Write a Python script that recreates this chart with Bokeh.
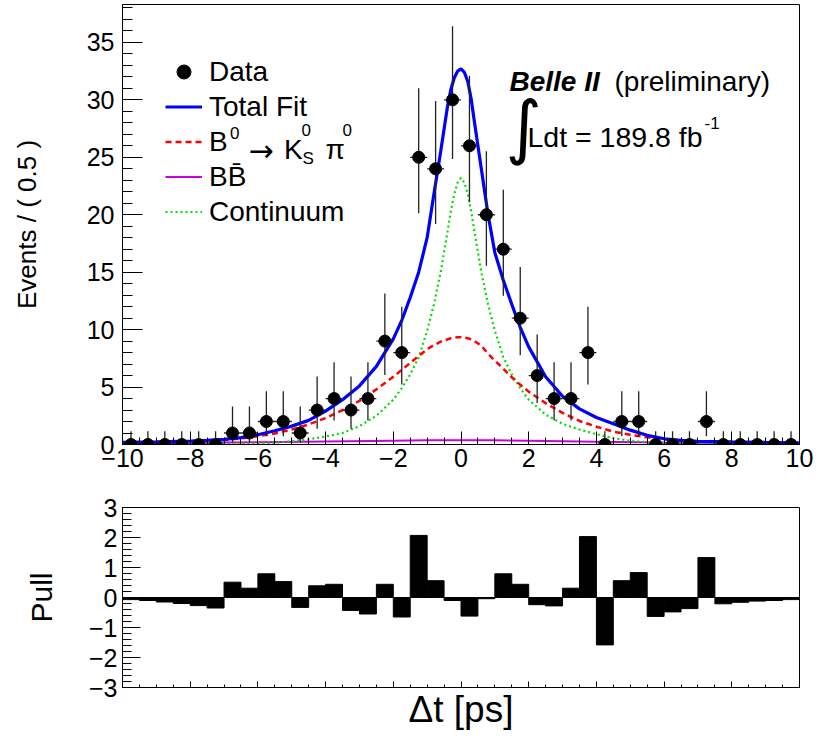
from bokeh.plotting import figure
from bokeh.models import (FixedTicker, CustomJSTickFormatter, Range1d, Label,
                          Legend, LegendItem, ColumnDataSource, CustomLabelingPolicy)
from bokeh.layouts import column
from bokeh.embed import file_html
from bokeh.resources import INLINE

FONT = "Liberation Sans"

# ---------------- data ----------------
bin_centers = [-9.75, -9.25, -8.75, -8.25, -7.75, -7.25, -6.75, -6.25, -5.75, -5.25,
               -4.75, -4.25, -3.75, -3.25, -2.75, -2.25, -1.75, -1.25, -0.75, -0.25,
               0.25, 0.75, 1.25, 1.75, 2.25, 2.75, 3.25, 3.75, 4.25, 4.75,
               5.25, 5.75, 6.25, 6.75, 7.25, 7.75, 8.25, 8.75, 9.25, 9.75]
counts = [0, 0, 0, 0, 0, 0, 1, 1, 2, 2,
          1, 3, 4, 3, 4, 9, 8, 25, 24, 30,
          26, 20, 17, 11, 6, 4, 4, 8, 0, 2,
          2, 0, 0, 0, 2, 0, 0, 0, 0, 0]
err_low = [0, 0, 0, 0, 0, 0, 0.17, 0.17, 0.71, 0.71,
           0.17, 1.37, 2.09, 1.37, 2.09, 6.06, 5.23, 20.13, 19.19, 24.85,
           21.09, 15.57, 12.95, 7.77, 3.62, 2.09, 2.09, 5.23, 0, 0.71,
           0.71, 0, 0, 0, 0.71, 0, 0, 0, 0, 0]
err_high = [1.15, 1.15, 1.15, 1.15, 1.15, 1.15, 3.30, 3.30, 4.64, 4.64,
            3.30, 5.92, 7.16, 5.92, 7.16, 13.15, 11.98, 31.0, 29.91, 36.4,
            32.09, 25.52, 22.18, 15.46, 9.58, 7.16, 7.16, 11.98, 1.15, 4.64,
            4.64, 1.15, 1.15, 1.15, 4.64, 1.15, 1.15, 1.15, 1.15, 1.15]
pulls = [-0.07, -0.10, -0.15, -0.20, -0.27, -0.35, 0.51, 0.31, 0.79, 0.53,
         -0.33, 0.39, 0.44, -0.43, -0.55, 0.44, -0.65, 2.07, 0.56, -0.10,
         -0.62, -0.04, 0.79, 0.44, -0.24, -0.28, 0.31, 2.03, -1.58, 0.56,
         0.83, -0.63, -0.48, -0.37, 1.33, -0.21, -0.16, -0.12, -0.10, -0.07]
bin_width = 0.5

curve_x = [-10, -9, -8, -7.5, -7, -6.5, -6, -5.5, -5, -4.5,
           -4, -3.5, -3, -2.5, -2, -1.75, -1.5, -1.25, -1.0, -0.8,
           -0.6, -0.4, -0.3, -0.2, -0.1, 0, 0.1, 0.2, 0.3, 0.4,
           0.6, 0.8, 1.0, 1.25, 1.5, 1.75, 2.0, 2.5, 3.0, 3.5,
           4.0, 4.5, 5.0, 5.5, 6.0, 6.5, 7.0, 8, 9, 10]
total_fit = [0.18, 0.23, 0.30, 0.37, 0.45, 0.60, 0.85, 1.20, 1.60, 2.10,
             2.90, 3.90, 5.10, 6.80, 9.20, 10.8, 12.8, 15.0, 18.0, 21.8,
             25.5, 29.4, 30.9, 31.9, 32.5, 32.7, 32.4, 31.6, 30.1, 28.0,
             24.0, 20.0, 16.7, 14.3, 12.2, 10.2, 8.5, 5.9, 4.2, 3.1,
             2.35, 1.80, 1.25, 0.80, 0.50, 0.36, 0.28, 0.22, 0.18, 0.15]
signal = [0.10, 0.15, 0.22, 0.30, 0.38, 0.52, 0.72, 0.96, 1.30, 1.75,
          2.30, 3.00, 3.80, 4.80, 5.90, 6.50, 7.10, 7.70, 8.30, 8.65,
          8.95, 9.15, 9.25, 9.30, 9.33, 9.33, 9.30, 9.25, 9.15, 9.00,
          8.60, 7.90, 7.30, 6.60, 5.85, 5.20, 4.60, 3.60, 2.75, 2.05,
          1.55, 1.12, 0.85, 0.62, 0.45, 0.34, 0.27, 0.18, 0.13, 0.10]
continuum = [0.02, 0.02, 0.03, 0.04, 0.05, 0.07, 0.10, 0.15, 0.28, 0.45,
             0.70, 1.00, 1.60, 2.50, 3.90, 4.90, 6.10, 7.60, 9.90, 12.2,
             15.0, 18.5, 20.3, 21.8, 22.8, 23.2, 22.8, 21.8, 20.3, 18.5,
             15.0, 12.2, 9.90, 7.60, 6.10, 4.90, 3.90, 2.60, 1.80, 1.30,
             0.90, 0.55, 0.33, 0.20, 0.12, 0.08, 0.06, 0.03, 0.02, 0.02]
bbbar_x = [-10, -8, -6, -4, -2, -1, 0, 1, 2, 4, 6, 8, 10]
bbbar = [0.12, 0.15, 0.20, 0.27, 0.33, 0.36, 0.38, 0.36, 0.32, 0.24, 0.17, 0.13, 0.10]

legend_labels = ["Data", "Total Fit", "B", "BB\u0304", "Continuum"]

x_major = [-10, -8, -6, -4, -2, 0, 2, 4, 6, 8, 10]
x_minor = [-10 + 0.5 * i for i in range(41)]
y_major = [0, 5, 10, 15, 20, 25, 30, 35]
y_minor = list(range(0, 39))
pull_major = [-3, -2, -1, 0, 1, 2, 3]
pull_minor = [round(-3 + 0.2 * i, 2) for i in range(31)]

# ---------------- layout constants ----------------
LEFT = 122
RIGHT = 15
FRAME_W = 677
W = LEFT + FRAME_W + RIGHT
TOP_B = 4
TOP_FRAME_H = 440
TOP_BOTTOM_B = 47
TOP_H = TOP_B + TOP_FRAME_H + TOP_BOTTOM_B
PULL_TOP_B = 16
PULL_FRAME_H = 180
PULL_BOTTOM_B = 45
PULL_H = PULL_TOP_B + PULL_FRAME_H + PULL_BOTTOM_B
Y_MAX = 38.3

# page position of the top frame
FX0, FY1 = 125, 447

minus_fmt = CustomJSTickFormatter(
    code="return (tick < 0 ? '\u2212' : '') + Math.abs(Math.round(tick*100)/100).toString();")


def dx(px):
    return -10 + (px - FX0) / FRAME_W * 20.0


def dy(py):
    return (FY1 - py) / TOP_FRAME_H * Y_MAX


def style_axes(fig):
    for ax in fig.axis:
        ax.axis_line_color = "black"
        ax.major_tick_line_color = "black"
        ax.minor_tick_line_color = "black"
        ax.major_tick_out = 0
        ax.minor_tick_out = 0
        ax.major_label_text_font = FONT
        ax.major_label_text_font_size = "25px"
        ax.major_label_text_color = "black"
        ax.axis_label_text_font = FONT
        ax.axis_label_text_font_style = "normal"
        ax.axis_label_text_color = "black"
        ax.formatter = minus_fmt
    fig.xgrid.visible = False
    fig.ygrid.visible = False
    fig.outline_line_color = "black"
    fig.outline_line_width = 1
    fig.background_fill_color = "white"
    fig.border_fill_color = "white"


# ---------------- top panel ----------------
p = figure(width=W, height=TOP_H, x_range=Range1d(-10, 10), y_range=Range1d(0, Y_MAX),
           output_backend="svg", toolbar_location=None,
           min_border_left=LEFT, min_border_right=RIGHT,
           min_border_top=TOP_B, min_border_bottom=TOP_BOTTOM_B)
style_axes(p)
p.xaxis.ticker = FixedTicker(ticks=x_major, minor_ticks=x_minor)
p.yaxis.ticker = FixedTicker(ticks=y_major, minor_ticks=y_minor)
p.xaxis.major_tick_in = 13
p.xaxis.minor_tick_in = 7
p.yaxis.major_tick_in = 20
p.yaxis.minor_tick_in = 10
p.xaxis.major_label_standoff = 4
p.yaxis.major_label_standoff = 8
p.yaxis.axis_label = "Events / ( 0.5 )"
p.yaxis.axis_label_text_font_size = "26px"
p.yaxis.axis_label_standoff = 42

r_bb = p.line(bbbar_x, bbbar, line_color="#cc00dd", line_width=2)
r_cont = p.line(curve_x, continuum, line_color="#00dd00", line_width=2.2, line_dash="2 3")
r_sig = p.line(curve_x, signal, line_color="#ff0000", line_width=2.5, line_dash="6 4")
r_tot = p.line(curve_x, total_fit, line_color="#0000ff", line_width=3.2)

src = ColumnDataSource(dict(
    x=bin_centers, y=counts, lo=err_low, hi=err_high,
    xl=[c - bin_width / 2 for c in bin_centers],
    xr=[c + bin_width / 2 for c in bin_centers]))
p.segment(x0="x", y0="lo", x1="x", y1="hi", source=src, line_color="#222222", line_width=1.3)
p.segment(x0="xl", y0="y", x1="xr", y1="y", source=src, line_color="#222222", line_width=1.3)
r_data = p.scatter("x", "y", source=src, size=12, marker="circle",
                   fill_color="black", line_color="black")

legend = Legend(items=[
    LegendItem(label=legend_labels[0], renderers=[r_data]),
    LegendItem(label=legend_labels[1], renderers=[r_tot]),
    LegendItem(label=legend_labels[2], renderers=[r_sig]),
    LegendItem(label=legend_labels[3], renderers=[r_bb]),
    LegendItem(label=legend_labels[4], renderers=[r_cont]),
], location=(43, 215), glyph_width=37, glyph_height=35, label_height=35,
    label_standoff=7, label_text_font=FONT, label_text_font_size="28px",
    label_text_color="black",
    spacing=0, padding=0, margin=0, border_line_alpha=0,
    background_fill_alpha=0)
p.add_layout(legend)

SUP_PT = "17px"


def lab(text, px, py, size="28px", font=FONT, style="normal", baseline="alphabetic"):
    p.add_layout(Label(x=dx(px), y=dy(py), text=text, text_font=font,
                       text_font_size=size, text_font_style=style,
                       text_color="black", text_baseline=baseline, text_align="left"))


# pieces of "B0 -> K0_S pi0" after the legend's "B"
lab("0", 232.5, 135, SUP_PT)
lab("\u2192", 251, 153, "30px", font="DejaVu Sans")
lab("K", 286.5, 152)
lab("0", 304, 132, SUP_PT)
lab("S", 305, 161, SUP_PT)
lab("\u03c0", 328, 152)
lab("0", 345, 132, SUP_PT)

lab("Belle II", 512, 84, "28px", style="bold italic")
lab("(preliminary)", 617, 84, "28px")
lab("\u222b", 508, 129, "70px", font="DejaVu Sans")
lab("Ldt = 189.8 fb", 530, 139.5, "28.5px")
lab("-1", 707, 125, "17px")

# ---------------- pull panel ----------------
p2 = figure(width=W, height=PULL_H, x_range=p.x_range, y_range=Range1d(-3, 3),
            output_backend="svg", toolbar_location=None,
            min_border_left=LEFT, min_border_right=RIGHT,
            min_border_top=PULL_TOP_B, min_border_bottom=PULL_BOTTOM_B)
style_axes(p2)
p2.xaxis.ticker = FixedTicker(ticks=x_major, minor_ticks=x_minor)
p2.yaxis.ticker = FixedTicker(ticks=pull_major, minor_ticks=pull_minor)
p2.xaxis.major_tick_in = 6
p2.xaxis.minor_tick_in = 3
p2.yaxis.major_tick_in = 18
p2.yaxis.minor_tick_in = 9
p2.xaxis.major_label_text_font_size = "0px"
p2.xaxis.major_label_policy = CustomLabelingPolicy(
    code="for (const i of Array.from(indices)) { indices.unset(i) }")
p2.xaxis.major_label_standoff = 0
p2.xaxis.axis_label = "\u0394t [ps]"
p2.xaxis.axis_label_text_font_size = "37px"
p2.xaxis.axis_label_standoff = 1
p2.yaxis.major_label_standoff = 5
p2.yaxis.axis_label = "Pull"
p2.yaxis.axis_label_text_font_size = "30px"
p2.yaxis.axis_label_standoff = 28

psrc = ColumnDataSource(dict(
    left=[c - bin_width / 2 for c in bin_centers],
    right=[c + bin_width / 2 for c in bin_centers],
    top=pulls, bottom=[0] * len(pulls)))
p2.quad(left="left", right="right", top="top", bottom="bottom", source=psrc,
        fill_color="black", line_color="black", line_width=1)

layout = column(p, p2, spacing=0)
open("out.html", "w").write(file_html(layout, INLINE))
